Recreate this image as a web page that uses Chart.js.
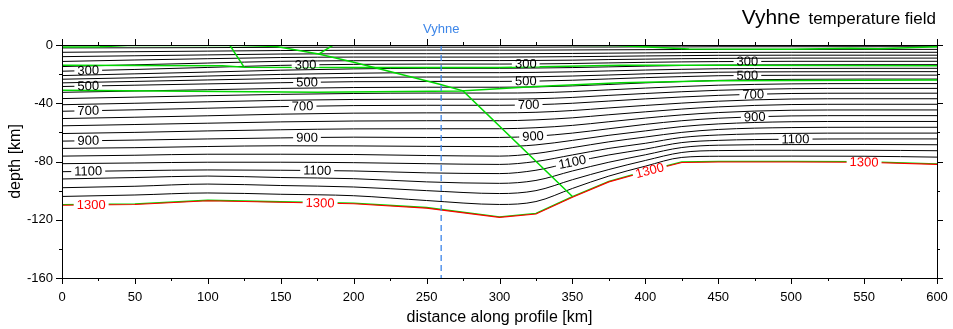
<!DOCTYPE html>
<html lang="en">
<head>
<meta charset="UTF-8">
<title>Vyhne temperature field</title>
<script src="https://cdn.jsdelivr.net/npm/chart.js"></script>
<style>
  body { margin: 0; background: #fff; }
  #wrap { width: 953px; height: 329px; position: relative; }
</style>
</head>
<body>
<div id="wrap"><canvas id="tempChart"></canvas></div>
<script>
// distance along profile (km) where the isotherm depths were read
var distance = [0, 50, 100, 150, 200, 250, 300, 325, 350, 375, 400, 425, 450, 500, 550, 600];

// isotherms every 50 C, depth in km at each distance above
var isoTemps = [50, 100, 150, 200, 250, 300, 350, 400, 450, 500, 550, 600, 650,
                700, 750, 800, 850, 900, 950, 1000, 1050, 1100, 1150, 1200, 1250, 1300];
var isoDepth = [
  [2, 1.9, 1.8, 1.6, 1.5, 1.5, 1.5, 1.5, 1.4, 1.4, 1.3, 1.3, 1.2, 1.2, 1.2, 1.2],
  [5, 4.6, 4.2, 3.8, 3.6, 3.5, 3.5, 3.5, 3.4, 3.3, 3.2, 3.1, 3, 3, 3, 3],
  [8, 7.4, 6.8, 6.2, 6, 6, 6, 5.9, 5.8, 5.6, 5.4, 5.2, 5.1, 5, 5, 5],
  [11.3, 10.3, 9.4, 8.6, 8.3, 8.3, 8.3, 8.2, 8, 7.8, 7.5, 7.3, 7.1, 7, 7, 7],
  [14.8, 13.6, 12.4, 11.2, 10.8, 10.7, 10.7, 10.6, 10.4, 10, 9.7, 9.4, 9.2, 9, 9, 9],
  [18, 16.8, 15.4, 14, 13.3, 13.1, 13.1, 13, 12.7, 12.3, 11.9, 11.6, 11.4, 11.2, 11.2, 11.2],
  [21, 19.8, 18.6, 17.3, 16.4, 16, 16, 15.8, 15.5, 15, 14.5, 14.1, 13.8, 13.6, 13.5, 13.5],
  [23.5, 22.5, 21.3, 20.2, 19.4, 19, 19, 18.8, 18.4, 17.8, 17.2, 16.7, 16.3, 16.1, 16, 16],
  [26, 25, 24, 23, 22.3, 22, 22, 21.8, 21.3, 20.6, 19.8, 19.2, 18.7, 18.4, 18.3, 18.3],
  [28.5, 27.6, 26.7, 25.9, 25.2, 25, 25, 24.8, 24.2, 23.3, 22.4, 21.7, 21.1, 20.8, 20.7, 20.7],
  [32.5, 31.6, 30.7, 29.8, 29.2, 29, 29, 28.8, 28.1, 27.1, 26, 25.1, 24.3, 23.6, 23.4, 23.4],
  [36.8, 35.8, 34.8, 33.9, 33.3, 33, 33, 32.8, 32, 30.8, 29.6, 28.5, 27.6, 26.7, 26.5, 26.5],
  [41, 40, 39, 38, 37.4, 37.2, 37.2, 36.9, 36, 34.6, 33.3, 32.1, 31.1, 30, 29.8, 29.8],
  [45.5, 44.5, 43.4, 42.3, 41.6, 41.4, 41.4, 41, 40, 38.5, 37, 35.7, 34.6, 33.3, 33.1, 33.1],
  [50.5, 49.6, 48.6, 47.5, 46.8, 46.6, 46.6, 46.2, 45, 43.2, 41.5, 39.9, 38.6, 37.1, 36.9, 36.9],
  [55.5, 54.6, 53.7, 52.8, 52.2, 52, 52, 51.4, 50, 47.9, 45.9, 44, 42.5, 40.9, 40.7, 40.7],
  [60.8, 60, 59, 58.2, 57.6, 57.5, 57.5, 56.8, 55.2, 52.7, 50.2, 48, 46.4, 44.8, 44.6, 44.6],
  [66, 65.3, 64.5, 63.8, 63.3, 63.5, 63.5, 62.6, 60.5, 57.5, 54.5, 52, 50.3, 48.7, 48.5, 48.5],
  [71, 70.5, 69.7, 69.2, 69.3, 69.6, 69.8, 68.6, 65.5, 62, 59, 56, 54.2, 52.7, 52.5, 52.5],
  [76.3, 75.7, 75, 75, 75.2, 75.9, 76.3, 74.5, 70.5, 66.5, 63.2, 60, 58, 56.7, 56.5, 56.5],
  [81.5, 81, 80.5, 80.5, 80.8, 81.5, 82, 80, 75.5, 71, 67.5, 63.5, 61.8, 60.7, 60.5, 60.5],
  [87, 86.3, 85.8, 86, 86.5, 87.8, 88.3, 86, 80.5, 75.5, 71.5, 67, 65.5, 64.7, 64.5, 64.5],
  [92, 91, 90, 91, 91.8, 94, 95, 93, 86.5, 80.5, 75.4, 70.4, 68.8, 68.4, 68.3, 68.5],
  [98, 97, 95.5, 96.5, 97.5, 100, 102, 100, 92.5, 85.5, 79.3, 73.8, 72.5, 72.3, 72.3, 72.6],
  [104, 103, 101.6, 102.5, 103.5, 106.8, 109.5, 107.5, 98.5, 90, 83.2, 77.2, 76.4, 76.3, 76.4, 77],
  [110, 109.5, 107, 108, 109, 112, 118.4, 116, 104.5, 94, 87, 80.7, 80.3, 80.3, 80.5, 82]
];

// which isotherms carry a label, and where along the profile (km)
var labelTemps = [300, 500, 700, 900, 1100, 1300];
var labelKm = [
  [18, 167, 318, 470],
  [18, 168, 318, 470],
  [18, 165, 320, 474],
  [18, 168, 323, 475],
  [18, 175, 350, 503],
  [20, 177, 403, 550]
];

// geological boundaries (green)
var sedKm = [0, 26, 45, 115, 186, 300, 380, 430, 500, 540, 560, 600];
var sedDepth = [1.3, 1.2, 0.3, 0.3, 0, 0, 0.3, 2.8, 3, 2.2, 2.6, 1.2];
var midCrustKm = [0, 110, 125, 200, 300, 383, 450, 600];
var midCrustDepth = [13.9, 14.2, 15.2, 15.5, 15.4, 13.9, 13.9, 14.2];
var mohoKm = [0, 175, 273, 325, 383, 450, 600];
var mohoDepth = [31, 32.4, 31.6, 28.5, 26, 24.6, 24];
var faultKm = [115, 147, 176, 200, 259, 275, 350];
var faultDepth = [0, 1, 6.2, 11.8, 27, 31.5, 104];
var fault2Km = [115, 124.5];
var fault2Depth = [0, 14.7];
var fault3Km = [186, 176];
var fault3Depth = [0, 6.2];

// Vyhne position on the profile
var vyhneKm = 260;
var depthRange = [0, 160];

function pts(xs, zs) {
  return xs.map(function (x, i) { return { x: x, y: -zs[i] }; });
}

function depthAt(row, km) {
  for (var i = 1; i < distance.length; i++) {
    if (km <= distance[i]) {
      var f = (km - distance[i - 1]) / (distance[i] - distance[i - 1]);
      return row[i - 1] + f * (row[i] - row[i - 1]);
    }
  }
  return row[row.length - 1];
}

var GREEN = '#00d800';
var FONT = '"Liberation Sans", Arial, sans-serif';
var datasets = [];

// Vyhne marker
datasets.push({
  data: [{ x: vyhneKm, y: -depthRange[0] }, { x: vyhneKm, y: -depthRange[1] }],
  borderColor: '#3d86e8', borderWidth: 1.3, borderDash: [6, 4], pointRadius: 0
});

// 1300 isotherm in red on top of green LAB
var lastRow = isoDepth[isoDepth.length - 1];
datasets.push({ data: pts(distance, lastRow), borderColor: '#ff0000', borderWidth: 1.1, pointRadius: 0, tension: 0 });
datasets.push({ data: pts(distance, lastRow.map(function (d) { return d - 0.4; })), borderColor: GREEN, borderWidth: 1.4, pointRadius: 0, tension: 0 });

[[sedKm, sedDepth], [midCrustKm, midCrustDepth], [mohoKm, mohoDepth],
 [faultKm, faultDepth], [fault2Km, fault2Depth], [fault3Km, fault3Depth]].forEach(function (g) {
  datasets.push({ data: pts(g[0], g[1]), borderColor: GREEN, borderWidth: 1.5, pointRadius: 0, tension: 0 });
});

// black isotherms (1300 is drawn above)
for (var i = 0; i < isoDepth.length - 1; i++) {
  datasets.push({
    data: pts(distance, isoDepth[i]),
    borderColor: '#000', borderWidth: 1, pointRadius: 0,
    cubicInterpolationMode: 'monotone'
  });
}

var decor = {
  id: 'decor',
  afterDatasetsDraw: function (chart) {
    var ctx = chart.ctx, xs = chart.scales.x, ys = chart.scales.y;
    ctx.save();
    ctx.font = '13px ' + FONT;
    ctx.textAlign = 'center';
    ctx.textBaseline = 'middle';
    labelTemps.forEach(function (t, k) {
      var row = isoDepth[isoTemps.indexOf(t)];
      labelKm[k].forEach(function (km) {
        var px = xs.getPixelForValue(km), py = ys.getPixelForValue(-depthAt(row, km));
        var x1 = xs.getPixelForValue(km - 8), y1 = ys.getPixelForValue(-depthAt(row, km - 8));
        var x2 = xs.getPixelForValue(km + 8), y2 = ys.getPixelForValue(-depthAt(row, km + 8));
        var txt = String(t);
        var w = ctx.measureText(txt).width;
        ctx.save();
        ctx.translate(px, py);
        ctx.rotate(Math.atan2(y2 - y1, x2 - x1));
        ctx.fillStyle = '#fff';
        ctx.fillRect(-w / 2 - 3, -2.5, w + 6, 5);
        ctx.fillStyle = t === 1300 ? '#ff0000' : '#000';
        ctx.fillText(txt, 0, 0.5);
        ctx.restore();
      });
    });
    ctx.restore();
  },
  afterDraw: function (chart) {
    var ctx = chart.ctx, xs = chart.scales.x, ys = chart.scales.y, a = chart.chartArea;
    ctx.save();
    ctx.strokeStyle = '#000';
    ctx.lineWidth = 1;
    ctx.strokeRect(Math.round(a.left) + 0.5, Math.round(a.top) + 0.5,
      Math.round(a.right - a.left), Math.round(a.bottom - a.top));
    ctx.beginPath();
    xs.ticks.forEach(function (t) {
      var px = Math.round(xs.getPixelForValue(t.value)) + 0.5;
      var len = t.value % 50 === 0 ? 6 : 3;
      ctx.moveTo(px, a.bottom); ctx.lineTo(px, a.bottom + len);
      ctx.moveTo(px, a.top); ctx.lineTo(px, a.top - len);
    });
    ys.ticks.forEach(function (t) {
      var py = Math.round(ys.getPixelForValue(t.value)) + 0.5;
      var len = t.value % 40 === 0 ? 6 : 3;
      ctx.moveTo(a.left, py); ctx.lineTo(a.left - len, py);
      ctx.moveTo(a.right, py); ctx.lineTo(a.right + len, py);
    });
    ctx.stroke();

    // Vyhne label above the marker
    ctx.fillStyle = '#3d86e8';
    ctx.font = '13px ' + FONT;
    ctx.textAlign = 'center';
    ctx.textBaseline = 'alphabetic';
    ctx.fillText('Vyhne', xs.getPixelForValue(vyhneKm), 33);

    // title, right aligned
    ctx.fillStyle = '#000';
    ctx.textAlign = 'right';
    ctx.font = '17px ' + FONT;
    var sub = 'temperature field';
    ctx.fillText(sub, 936, 24);
    var subW = ctx.measureText(sub).width;
    ctx.font = '21px ' + FONT;
    ctx.fillText('Vyhne', 936 - subW - 8, 24);
    ctx.restore();
  }
};

new Chart(document.getElementById('tempChart'), {
  type: 'line',
  data: { datasets: datasets },
  plugins: [decor],
  options: {
    responsive: true,
    maintainAspectRatio: false,
    animation: false,
    events: [],
    layout: { padding: { top: 45, right: 16, left: 0, bottom: 0 } },
    plugins: { legend: { display: false }, tooltip: { enabled: false } },
    scales: {
      x: {
        type: 'linear', min: 0, max: 600,
        grid: { display: false, drawTicks: false },
        border: { display: false },
        ticks: {
          stepSize: 25, autoSkip: false, maxRotation: 0, padding: 12, color: '#000',
          font: { family: FONT, size: 13 },
          callback: function (v) { return v % 50 === 0 ? v : ''; }
        },
        title: {
          display: true, text: 'distance along profile [km]', color: '#000',
          font: { family: FONT, size: 16 },
          padding: { top: 0, bottom: 2 }
        },
        afterFit: function (s) { s.height = 51; s.paddingLeft = 0; s.paddingRight = 0; }
      },
      y: {
        type: 'linear', min: -depthRange[1], max: -depthRange[0],
        grid: { display: false, drawTicks: false },
        border: { display: false },
        ticks: {
          stepSize: 20, autoSkip: false, padding: 9, color: '#000',
          font: { family: FONT, size: 13 },
          callback: function (v) { return v % 40 === 0 ? v : ''; }
        },
        title: {
          display: true, text: 'depth [km]', color: '#000',
          font: { family: FONT, size: 16 },
          padding: { top: 6, bottom: 0 }
        },
        afterFit: function (s) { s.width = 62; s.paddingTop = 0; s.paddingBottom = 0; }
      }
    }
  }
});
</script>
</body>
</html>
